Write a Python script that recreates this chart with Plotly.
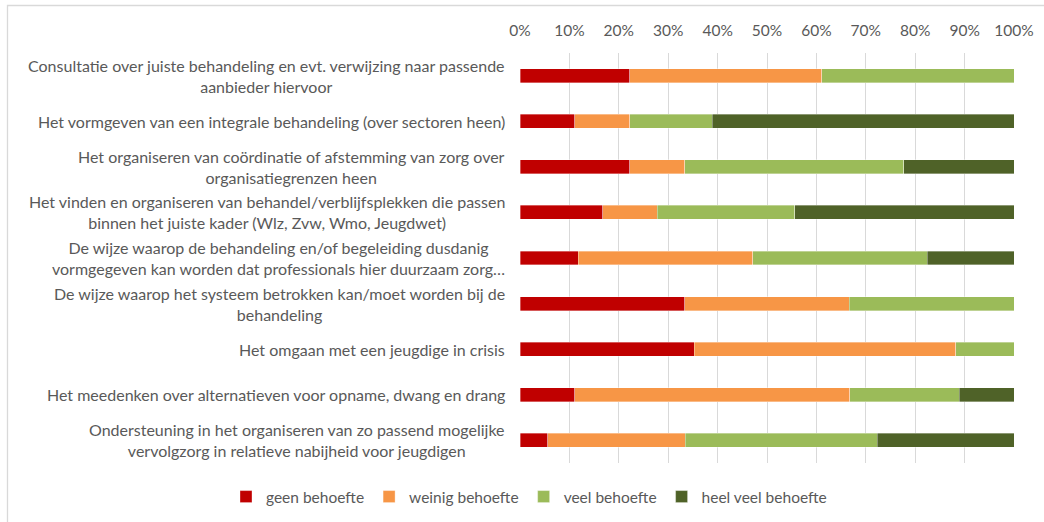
import plotly.graph_objects as go

categories = [
    "Consultatie over juiste behandeling en evt. verwijzing naar passende<br>aanbieder hiervoor",
    "Het vormgeven van een integrale behandeling (over sectoren heen)",
    "Het organiseren van coördinatie of afstemming van zorg over<br>organisatiegrenzen heen",
    "Het vinden en organiseren van behandel/verblijfsplekken die passen<br>binnen het juiste kader (Wlz, Zvw, Wmo, Jeugdwet)",
    "De wijze waarop de behandeling en/of begeleiding dusdanig<br>vormgegeven kan worden dat professionals hier duurzaam zorg…",
    "De wijze waarop het systeem betrokken kan/moet worden bij de<br>behandeling",
    "Het omgaan met een jeugdige in crisis",
    "Het meedenken over alternatieven voor opname, dwang en drang",
    "Ondersteuning in het organiseren van zo passend mogelijke<br>vervolgzorg in relatieve nabijheid voor jeugdigen",
]

series_names = ["geen behoefte", "weinig behoefte", "veel behoefte", "heel veel behoefte"]

geen_behoefte = [0.222, 0.111, 0.222, 0.167, 0.118, 0.333, 0.353, 0.111, 0.056]
weinig_behoefte = [0.389, 0.111, 0.111, 0.111, 0.353, 0.333, 0.529, 0.556, 0.278]
veel_behoefte = [0.389, 0.167, 0.444, 0.278, 0.353, 0.334, 0.118, 0.222, 0.389]
heel_veel_behoefte = [0.0, 0.611, 0.223, 0.444, 0.176, 0.0, 0.0, 0.111, 0.277]

tick_values = [0, 0.1, 0.2, 0.3, 0.4, 0.5, 0.6, 0.7, 0.8, 0.9, 1.0]
tick_labels = ["0%", "10%", "20%", "30%", "40%", "50%", "60%", "70%", "80%", "90%", "100%"]

colors = ["#C00000", "#F79646", "#9BBB59", "#4F6228"]
FONT = "Lato"
TXT = "#595959"

fig = go.Figure()
for name, vals, col in zip(series_names,
                           [geen_behoefte, weinig_behoefte, veel_behoefte, heel_veel_behoefte],
                           colors):
    fig.add_trace(go.Bar(
        y=categories, x=vals, name=name, orientation="h",
        marker=dict(color=col, line=dict(width=0.5, color="rgba(255,255,255,0.7)")),
    ))

for c in categories:
    fig.add_annotation(
        x=-0.027, xref="paper", y=c, yref="y", text=c, showarrow=False,
        xanchor="right", yanchor="middle", align="center",
        font=dict(family=FONT, size=16, color=TXT),
    )

# chart-area border (top and left visible)
fig.add_shape(type="rect", xref="paper", yref="paper",
              x0=(7.5 - 520) / 494, x1=1.2, y0=-0.5, y1=(463 - 5.5) / 410,
              line=dict(color="#D9D9D9", width=1.3), fillcolor="rgba(0,0,0,0)", layer="below")

fig.update_layout(
    width=1044, height=522,
    barmode="stack", bargap=0.693,
    margin=dict(l=520, r=30, t=53, b=59, autoexpand=False),
    plot_bgcolor="white", paper_bgcolor="white",
    font=dict(family=FONT, size=15, color=TXT),
    showlegend=True,
    legend=dict(orientation="h", xref="paper", x=(226 - 520) / 494, xanchor="left",
                yref="paper", y=(463 - 497) / 410, yanchor="middle",
                font=dict(family=FONT, size=15.5, color=TXT), itemwidth=30,
                traceorder="normal"),
    xaxis=dict(side="top", range=[0, 1], tickvals=tick_values, ticktext=tick_labels,
               showgrid=True, gridcolor="#D9D9D9", gridwidth=1, zeroline=False,
               showline=False, ticks="", ticklabelstandoff=13,
               tickfont=dict(family=FONT, size=15.5, color=TXT), fixedrange=True),
    yaxis=dict(autorange="reversed", showticklabels=False, showgrid=False,
               zeroline=False, showline=False, ticks="", fixedrange=True),
)

fig.write_html("out.html", config={"displayModeBar": False},
               post_script="document.body.style.margin='0';document.body.style.overflow='hidden';")
